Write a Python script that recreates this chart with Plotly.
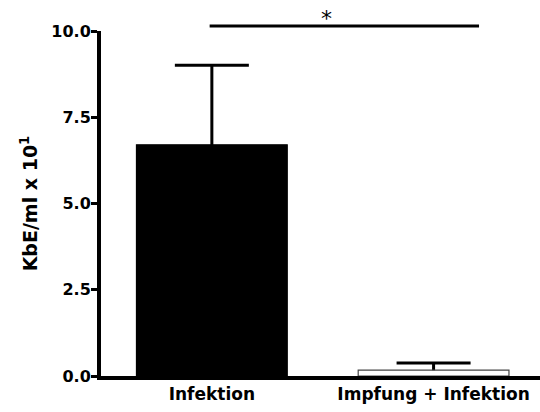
import plotly.graph_objects as go

categories = ["Infektion", "Impfung + Infektion"]
means = [6.70, 0.17]
errors_up = [2.31, 0.21]
bar_fill = ["#000000", "#ffffff"]
y_ticks = [0, 2.5, 5.0, 7.5, 10.0]
y_tick_labels = ["0.0", "2.5", "5.0", "7.5", "10.0"]
sig_label = "*"

x_pos = [0, 1]

fig = go.Figure()
# error bars (drawn beneath the bars so the lower cap is hidden at the baseline)
fig.add_trace(go.Bar(
    x=x_pos, y=means, width=0.68,
    marker=dict(color="rgba(0,0,0,0)", line=dict(width=0)),
    error_y=dict(type="data", symmetric=False, array=errors_up, arrayminus=means,
                 color="#000000", thickness=3, width=37),
    showlegend=False, hoverinfo="skip",
))
fig.add_trace(go.Bar(
    x=x_pos, y=means, width=0.68,
    marker=dict(color=bar_fill, line=dict(color=["#000000", "#444444"], width=1.2)),
    showlegend=False,
))

font_b = dict(family="DejaVu Sans, sans-serif", size=17, color="#000000")
font_t = dict(family="DejaVu Sans, sans-serif", size=16, color="#000000")
font_title = dict(family="DejaVu Sans, sans-serif", size=19, color="#000000")

fig.update_layout(
    width=540, height=412,
    margin=dict(l=101, r=0, t=31, b=36),
    paper_bgcolor="white", plot_bgcolor="white",
    barmode="overlay",
    xaxis=dict(range=[-0.5, 1.48], tickvals=x_pos, ticktext=["<b>%s</b>" % c for c in categories],
               showline=True, linecolor="#000000", linewidth=4, ticks="", showgrid=False,
               zeroline=False, tickfont=font_b, fixedrange=True),
    yaxis=dict(range=[0, 10], tickvals=y_ticks, ticktext=["<b>%s</b>" % t for t in y_tick_labels],
               showline=True, linecolor="#000000", linewidth=4, ticks="outside", ticklen=6,
               tickwidth=3, tickcolor="#000000", showgrid=False, zeroline=False,
               tickfont=font_t, ticklabelstandoff=-3,
               title=dict(text="<b>KbE/ml x 10<sup>1</sup></b>", font=font_title, standoff=10)),
)

fig.add_shape(type="line", xref="x", yref="paper", x0=-0.01, x1=1.205, y0=1.0145, y1=1.0145,
              line=dict(color="#000000", width=3))
fig.add_annotation(xref="x", yref="paper", x=0.516, y=1.0145, yanchor="bottom", showarrow=False,
                   text=sig_label, font=dict(family="DejaVu Sans, sans-serif", size=22, color="#000000"),
                   yshift=-7)

fig.write_html("out.html")
